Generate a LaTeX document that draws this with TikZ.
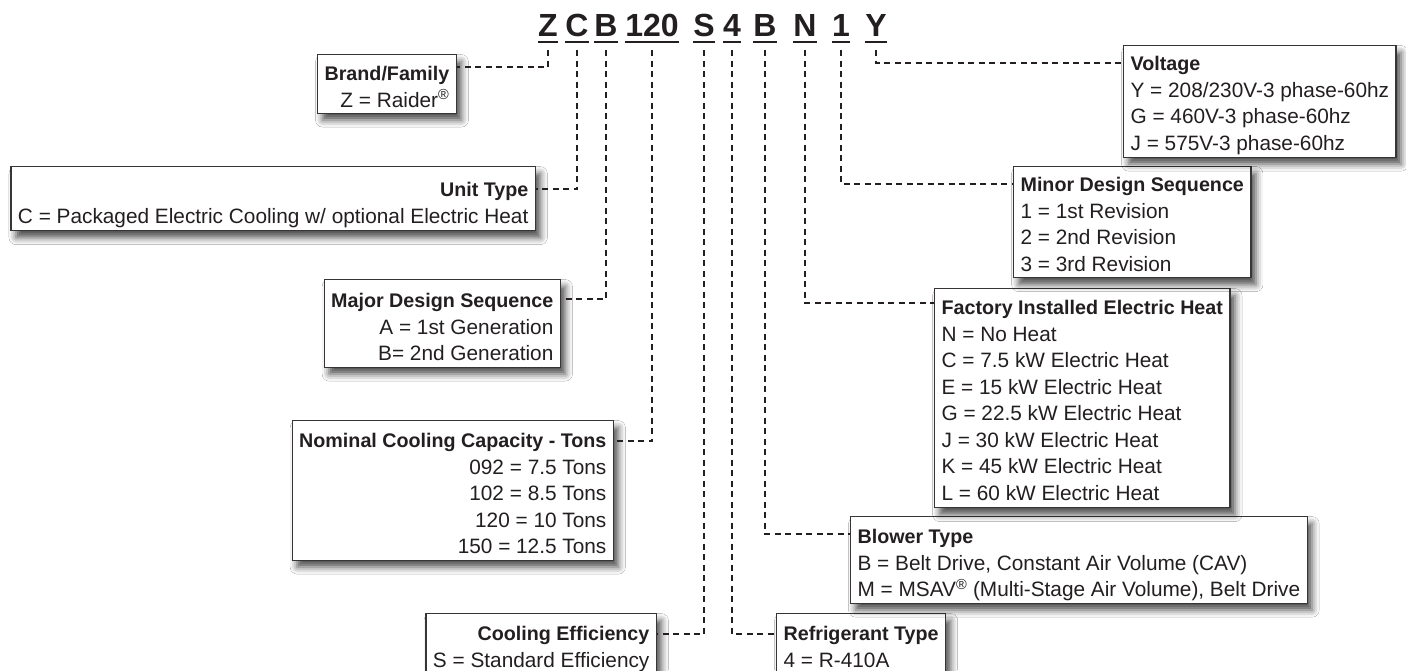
\documentclass[tikz,border=0pt]{standalone}
\usepackage{fontspec}
\setmainfont{Liberation Sans}
\usetikzlibrary{shadows.blur}
\definecolor{ink}{HTML}{231F20}
\newcommand\boxhead[1]{{\fontsize{19.7}{26.5}\selectfont\bfseries #1}}
\newcommand\mytop[1]{\rule{0pt}{#1pt}}
\newcommand\mybot[1]{\rule[-#1pt]{0pt}{#1pt}}
\begin{document}
\begin{tikzpicture}[x=1pt,y=-1pt,
  code/.style={font=\fontsize{32}{32}\selectfont\bfseries, text=ink, inner sep=0pt, anchor=base},
  ul/.style={line width=2.6pt, draw=ink},
  conn/.style={line width=2.1pt, draw=ink, dash pattern=on 6pt off 4.5pt},
  infobox/.style={draw=ink!90, line width=1.2pt, fill=white, inner xsep=7pt, inner ysep=0pt,
    text=ink, font=\fontsize{20.8}{26.5}\selectfont,
    blur shadow={shadow xshift=5pt, shadow yshift=-7pt, shadow blur radius=7pt, shadow opacity=70}},
  lbox/.style={infobox, align=left, anchor=north west},
  rbox/.style={infobox, align=right, anchor=north east}]
\useasboundingbox (0,0) rectangle (1406,670);
\clip (0,0) rectangle (1406,670);
\fill[white] (0,0) rectangle (1406,670);

% model code letters
\node[code] (cZ)  at (548,36) {Z};
\node[code] (cC)  at (577,36) {C};
\node[code] (cB)  at (606,36) {B};
\node[code] (cT)  at (652,36) {120};
\node[code] (cS)  at (704,36) {S};
\node[code] (c4)  at (732,36) {4};
\node[code] (cB2) at (765,36) {B};
\node[code] (cN)  at (805,36) {N};
\node[code] (c1)  at (841,36) {1};
\node[code] (cY)  at (876,36) {Y};
\foreach \n in {cZ,cC,cB,cT,cS,c4,cB2,cN,c1,cY}
  \draw[ul] ([yshift=-6pt]\n.base west) -- ([yshift=-6pt]\n.base east);

% left boxes (right edge fixed)
\node[rbox] (brand) at (457,54)
  {\mytop{26}\boxhead{Brand/Family}\\ Z = Raider\textsuperscript{®}\mybot{6}};
\node[rbox] (unit) at (536,166)
  {\mytop{30}\boxhead{Unit Type}\\ C = Packaged Electric Cooling w/ optional Electric Heat\mybot{7.5}};
\node[rbox] (major) at (561,279)
  {\mytop{28}\boxhead{Major Design Sequence}\\ A = 1st Generation\\ B= 2nd Generation\mybot{6.5}};
\node[rbox] (nom) at (614,420)
  {\mytop{27}\boxhead{Nominal Cooling Capacity - Tons}\\ 092 = 7.5 Tons\\ 102 = 8.5 Tons\\ 120 = 10 Tons\\ 150 = 12.5 Tons\mybot{6.5}};
\node[rbox] (eff) at (657,613)
  {\mytop{27}\boxhead{Cooling Efficiency}\\ S = Standard Efficiency\mybot{21}};

% right boxes (left edge fixed)
\node[lbox] (ref) at (776,613)
  {\mytop{27}\boxhead{Refrigerant Type}\\ 4 = R-410A\mybot{20}};
\node[lbox] (blow) at (850,516)
  {\mytop{27}\boxhead{Blower Type}\\ B = Belt Drive, Constant Air Volume (CAV)\\ M = MSAV\textsuperscript{®} (Multi-Stage Air Volume), Belt Drive\mybot{6.5}};
\node[lbox] (heat) at (934,288)
  {\mytop{26}\boxhead{Factory Installed Electric Heat}\\ N = No Heat\\ C = 7.5 kW Electric Heat\\ E = 15 kW Electric Heat\\ G = 22.5 kW Electric Heat\\ J = 30 kW Electric Heat\\ K = 45 kW Electric Heat\\ L = 60 kW Electric Heat\mybot{7.5}};
\node[lbox] (minor) at (1013,166)
  {\mytop{25}\boxhead{Minor Design Sequence}\\ 1 = 1st Revision\\ 2 = 2nd Revision\\ 3 = 3rd Revision\mybot{6.5}};
\node[lbox] (volt) at (1123,45)
  {\mytop{25}\boxhead{Voltage}\\ Y = 208/230V-3 phase-60hz\\ G = 460V-3 phase-60hz\\ J = 575V-3 phase-60hz\mybot{7}};

% connectors
\draw[conn] ([yshift=-14pt]cZ.base)  |- ([yshift=-13pt]brand.north east);
\draw[conn] ([yshift=-14pt]cC.base)  |- ([yshift=-23pt]unit.north east);
\draw[conn] ([yshift=-14pt]cB.base)  |- ([yshift=-20pt]major.north east);
\draw[conn] ([yshift=-14pt]cT.base)  |- ([yshift=-21pt]nom.north east);
\draw[conn] ([yshift=-14pt]cS.base)  |- ([yshift=-21pt]eff.north east);
\draw[conn] ([yshift=-14pt]c4.base)  |- ([yshift=-21pt]ref.north west);
\draw[conn] ([yshift=-14pt]cB2.base) |- ([yshift=-18pt]blow.north west);
\draw[conn] ([yshift=-14pt]cN.base)  |- ([yshift=-15pt]heat.north west);
\draw[conn] ([yshift=-14pt]c1.base)  |- ([yshift=-18pt]minor.north west);
\draw[conn] ([yshift=-14pt]cY.base)  |- ([yshift=-18pt]volt.north west);
\end{tikzpicture}
\end{document}
